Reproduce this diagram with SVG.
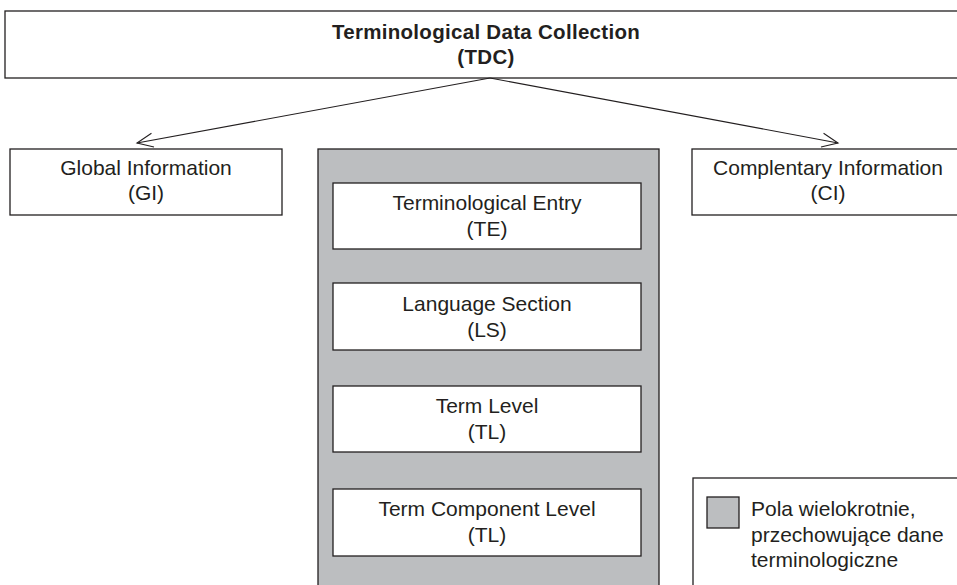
<svg xmlns="http://www.w3.org/2000/svg" width="957" height="585" viewBox="0 0 957 585">
<style>
.box{fill:#fff;stroke:#231f20;stroke-width:1.3}
.gray{fill:#bcbec0;stroke:#231f20;stroke-width:1.3}
.t{font-family:"Liberation Sans",Arial,sans-serif;font-size:21px;fill:#231f20;text-anchor:middle}
.tb{font-family:"Liberation Sans",Arial,sans-serif;font-size:20.5px;font-weight:bold;fill:#231f20;text-anchor:middle;letter-spacing:0.3px}
.lg{font-family:"Liberation Sans",Arial,sans-serif;font-size:21px;fill:#231f20}
.edge{stroke:#231f20;stroke-width:1.1;fill:none}
</style>
<defs>
<marker id="open" viewBox="0 0 20 20" refX="18" refY="10" markerWidth="20" markerHeight="20" markerUnits="userSpaceOnUse" orient="auto">
<path d="M2,3 L18,10 L2,17" fill="none" stroke="#231f20" stroke-width="1.1"/>
</marker>
</defs>
<rect width="957" height="585" fill="#fff"/>
<g id="tdc">
<rect class="box" x="5" y="11" width="960" height="67"/>
<text class="tb" x="486" y="39">Terminological Data Collection</text>
<text class="tb" x="486" y="64">(TDC)</text>
</g>
<g id="connectors">
<line class="edge" x1="490" y1="78" x2="137" y2="143" marker-end="url(#open)"/>
<line class="edge" x1="490" y1="78" x2="838" y2="143" marker-end="url(#open)"/>
</g>
<g id="gi">
<rect class="box" x="10" y="149" width="272" height="66"/>
<text class="t" x="146" y="175">Global Information</text>
<text class="t" x="146" y="200">(GI)</text>
</g>
<g id="ci">
<rect class="box" x="692" y="149" width="280" height="66"/>
<text class="t" x="828" y="175">Complentary Information</text>
<text class="t" x="828" y="200">(CI)</text>
</g>
<g id="multi">
<rect class="gray" x="318" y="149" width="341" height="450"/>
</g>
<g id="te">
<rect class="box" x="333" y="183" width="308" height="66"/>
<text class="t" x="487" y="210">Terminological Entry</text>
<text class="t" x="487" y="236">(TE)</text>
</g>
<g id="ls">
<rect class="box" x="333" y="283" width="308" height="67"/>
<text class="t" x="487" y="311">Language Section</text>
<text class="t" x="487" y="337">(LS)</text>
</g>
<g id="tl">
<rect class="box" x="333" y="386" width="308" height="66"/>
<text class="t" x="487" y="413">Term Level</text>
<text class="t" x="487" y="439">(TL)</text>
</g>
<g id="tcl">
<rect class="box" x="333" y="489" width="308" height="67"/>
<text class="t" x="487" y="516">Term Component Level</text>
<text class="t" x="487" y="542">(TL)</text>
</g>
<g id="legend">
<rect class="box" x="693" y="478" width="280" height="120"/>
<rect class="gray" x="707" y="497" width="32" height="31"/>
<text class="lg" x="751" y="516">Pola wielokrotnie,</text>
<text class="lg" x="751" y="542">przechowujące dane</text>
<text class="lg" x="751" y="567">terminologiczne</text>
</g>
</svg>
